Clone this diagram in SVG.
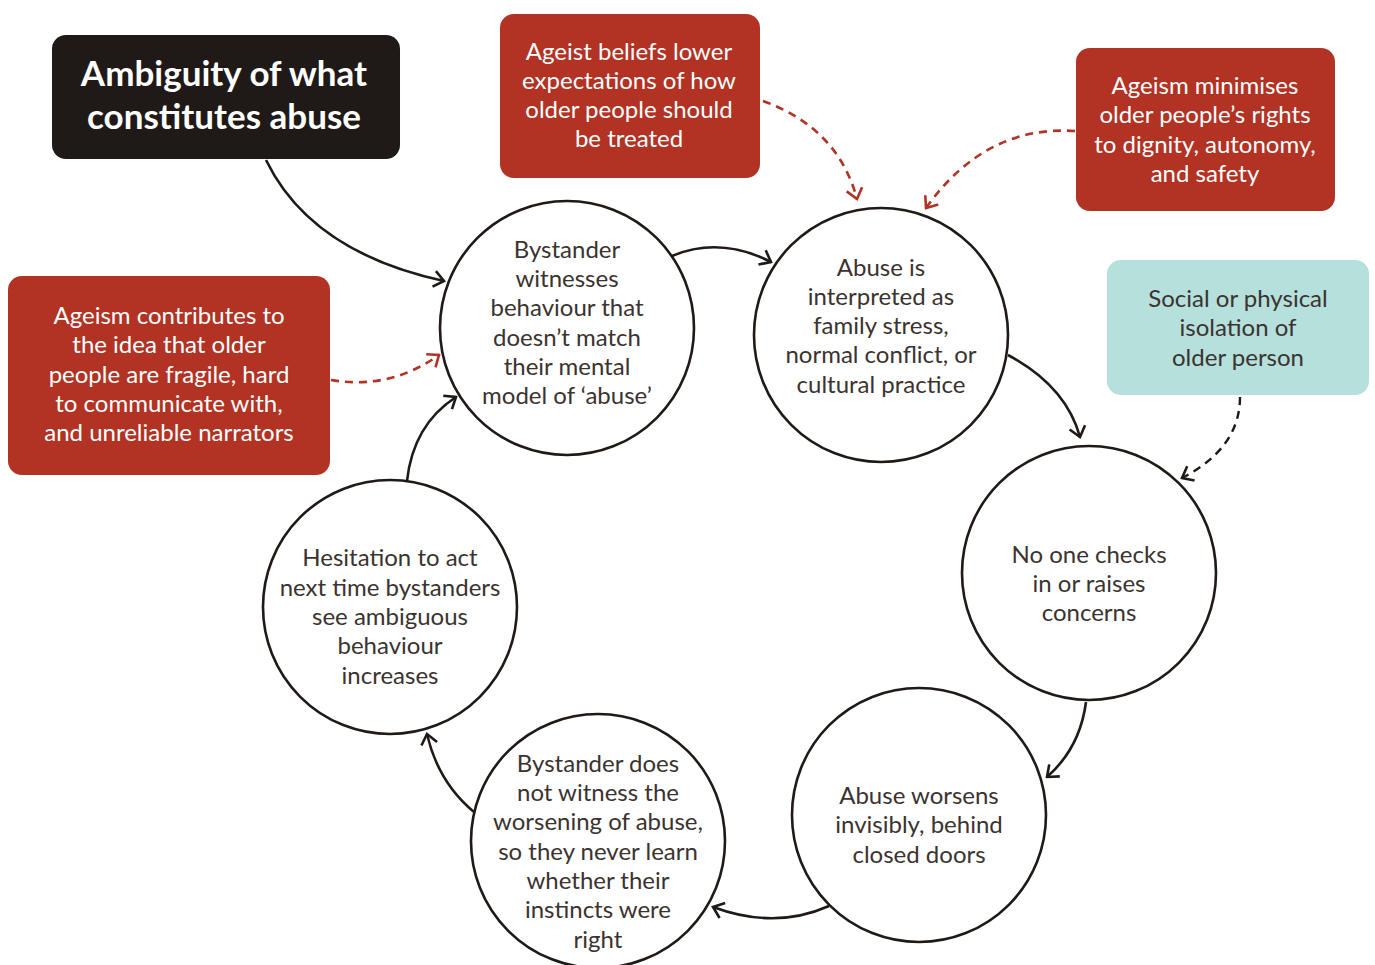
<svg xmlns="http://www.w3.org/2000/svg" width="1375" height="965" viewBox="0 0 1375 965">
  <style>
    .body { font-family: Lato, "Liberation Sans", sans-serif; font-size: 24px; text-anchor: middle; }
    .dark { fill: #3a3330; }
    .light { fill: #ffffff; }
    .title { font-family: Lato, "Liberation Sans", sans-serif; font-size: 35px; font-weight: bold; fill: #ffffff; text-anchor: middle; }
    .ring { fill: #ffffff; stroke: #1f1a17; stroke-width: 2.6; }
    .flow { fill: none; stroke: #1f1a17; stroke-width: 2.6; marker-end: url(#headDark); }
    .flowDash { fill: none; stroke: #1f1a17; stroke-width: 2.4; stroke-dasharray: 8 6; marker-end: url(#headDark); }
    .influence { fill: none; stroke: #b23224; stroke-width: 2.6; stroke-dasharray: 8 6; marker-end: url(#headRed); }
  </style>
  <defs>
    <marker id="headDark" viewBox="-12 -10 14 20" markerWidth="14" markerHeight="20" refX="0" refY="0" orient="auto" markerUnits="userSpaceOnUse">
      <path d="M-10,-8 L0,0 L-10,8" fill="none" stroke="#1f1a17" stroke-width="2.6"/>
    </marker>
    <marker id="headRed" viewBox="-12 -10 14 20" markerWidth="14" markerHeight="20" refX="0" refY="0" orient="auto" markerUnits="userSpaceOnUse">
      <path d="M-10,-8 L0,0 L-10,8" fill="none" stroke="#b23224" stroke-width="2.6"/>
    </marker>
  </defs>

  <rect width="1375" height="965" fill="#ffffff"/>

  <!-- connectors -->
  <g id="connectors">
    <path class="flow" d="M266,160 C300,230 370,265 444,281"/>
    <path class="flow" d="M672,256 Q720,236 771,262"/>
    <path class="flow" d="M1008,355 Q1066,386 1080,437"/>
    <path class="flow" d="M1086,702 Q1080,748 1047,777"/>
    <path class="flow" d="M829,906 Q775,930 713,907"/>
    <path class="flow" d="M474,812 Q438,782 427,734"/>
    <path class="flow" d="M407,481 Q413,425 456,397"/>
    <path class="influence" d="M763,101 Q838,128 857,199"/>
    <path class="influence" d="M1075,131 Q985,125 926,208"/>
    <path class="influence" d="M331,380 Q390,390 439,355"/>
    <path class="flowDash" d="M1240,397 Q1240,448 1182,478"/>
  </g>

  <!-- title box -->
  <g id="title">
    <rect x="52" y="35" width="348" height="124" rx="14" fill="#1f1a17"/>
    <text class="title" x="224" y="86">Ambiguity of what</text>
    <text class="title" x="224" y="129">constitutes abuse</text>
  </g>

  <!-- ageism factors -->
  <g id="ageist-beliefs">
    <rect x="500" y="14" width="260" height="164" rx="14" fill="#b23224"/>
    <text class="body light" x="629" y="60">Ageist beliefs lower</text>
    <text class="body light" x="629" y="89">expectations of how</text>
    <text class="body light" x="629" y="118">older people should</text>
    <text class="body light" x="629" y="147">be treated</text>
  </g>
  <g id="ageism-rights">
    <rect x="1076" y="48" width="259" height="163" rx="14" fill="#b23224"/>
    <text class="body light" x="1205" y="94">Ageism minimises</text>
    <text class="body light" x="1205" y="123">older people’s rights</text>
    <text class="body light" x="1205" y="153">to dignity, autonomy,</text>
    <text class="body light" x="1205" y="182">and safety</text>
  </g>
  <g id="ageism-fragile">
    <rect x="8" y="276" width="322" height="199" rx="14" fill="#b23224"/>
    <text class="body light" x="169" y="324">Ageism contributes to</text>
    <text class="body light" x="169" y="353">the idea that older</text>
    <text class="body light" x="169" y="383">people are fragile, hard</text>
    <text class="body light" x="169" y="412">to communicate with,</text>
    <text class="body light" x="169" y="441">and unreliable narrators</text>
  </g>
  <g id="isolation">
    <rect x="1107" y="260" width="262" height="135" rx="14" fill="#b5e0dc"/>
    <text class="body dark" x="1238" y="307">Social or physical</text>
    <text class="body dark" x="1238" y="336">isolation of</text>
    <text class="body dark" x="1238" y="366">older person</text>
  </g>

  <!-- cycle -->
  <g id="witnesses">
    <circle class="ring" cx="567" cy="328" r="127"/>
    <text class="body dark" x="567" y="258">Bystander</text>
    <text class="body dark" x="567" y="287">witnesses</text>
    <text class="body dark" x="567" y="316">behaviour that</text>
    <text class="body dark" x="567" y="346">doesn’t match</text>
    <text class="body dark" x="567" y="375">their mental</text>
    <text class="body dark" x="567" y="404">model of ‘abuse’</text>
  </g>
  <g id="interpreted">
    <circle class="ring" cx="881" cy="335" r="127"/>
    <text class="body dark" x="881" y="276">Abuse is</text>
    <text class="body dark" x="881" y="305">interpreted as</text>
    <text class="body dark" x="881" y="334">family stress,</text>
    <text class="body dark" x="881" y="363">normal conflict, or</text>
    <text class="body dark" x="881" y="393">cultural practice</text>
  </g>
  <g id="no-checks">
    <circle class="ring" cx="1089" cy="573" r="127"/>
    <text class="body dark" x="1089" y="563">No one checks</text>
    <text class="body dark" x="1089" y="592">in or raises</text>
    <text class="body dark" x="1089" y="621">concerns</text>
  </g>
  <g id="worsens">
    <circle class="ring" cx="919" cy="815" r="127"/>
    <text class="body dark" x="919" y="804">Abuse worsens</text>
    <text class="body dark" x="919" y="833">invisibly, behind</text>
    <text class="body dark" x="919" y="863">closed doors</text>
  </g>
  <g id="not-witness">
    <circle class="ring" cx="598" cy="841" r="127"/>
    <text class="body dark" x="598" y="772">Bystander does</text>
    <text class="body dark" x="598" y="801">not witness the</text>
    <text class="body dark" x="598" y="830">worsening of abuse,</text>
    <text class="body dark" x="598" y="860">so they never learn</text>
    <text class="body dark" x="598" y="889">whether their</text>
    <text class="body dark" x="598" y="918">instincts were</text>
    <text class="body dark" x="598" y="948">right</text>
  </g>
  <g id="hesitation">
    <circle class="ring" cx="390" cy="607" r="127"/>
    <text class="body dark" x="390" y="566">Hesitation to act</text>
    <text class="body dark" x="390" y="596">next time bystanders</text>
    <text class="body dark" x="390" y="625">see ambiguous</text>
    <text class="body dark" x="390" y="654">behaviour</text>
    <text class="body dark" x="390" y="684">increases</text>
  </g>
</svg>
